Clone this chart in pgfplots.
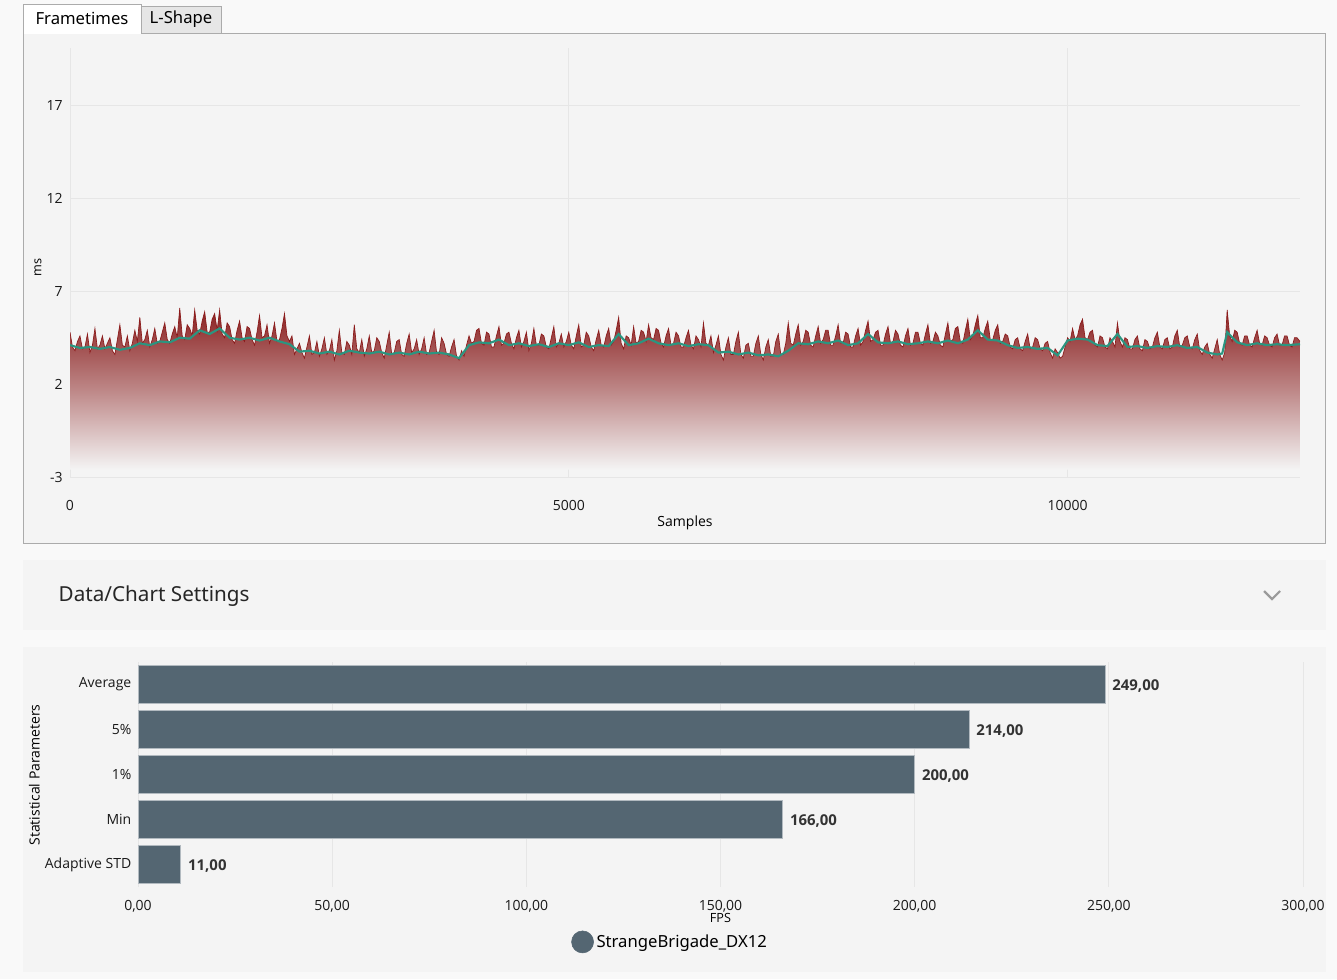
\documentclass[border=0pt]{standalone}
\usepackage{pgfplots}
\pgfplotsset{compat=1.18}
\usepackage{pgfplotstable}
\usepackage{fontspec}
\setmainfont{Open Sans}
\newfontfamily\uifont{Noto Sans}

\definecolor{pagebg}{HTML}{F9F9F9}
\definecolor{panelbg}{HTML}{F4F4F4}
\definecolor{bordergray}{HTML}{ABABAB}
\definecolor{tabgray}{HTML}{E6E6E6}
\definecolor{gridgray}{HTML}{E6E6E6}
\definecolor{ftred}{HTML}{8B1A1A}
\definecolor{ftshade}{HTML}{8A2020}
\definecolor{avgteal}{HTML}{2B9580}
\definecolor{barslate}{HTML}{546672}
\definecolor{labeltext}{HTML}{333333}
\definecolor{chevron}{HTML}{9A9A9A}

% frametimes (ms) per sample
\pgfplotstableread{
s v
0 4.8
25 4.0
50 3.8
75 4.3
100 4.6
125 3.9
150 4.0
175 4.7
200 3.7
225 4.1
250 5.0
275 3.9
300 4.1
325 4.6
350 3.9
375 4.2
400 4.5
425 3.8
450 3.6
475 4.4
500 5.2
525 4.1
550 4.0
575 4.6
600 3.8
625 4.2
650 4.9
675 4.3
700 5.6
725 4.2
750 4.4
775 4.9
800 4.0
825 4.4
850 5.0
875 4.2
900 4.3
925 4.8
950 5.3
975 4.4
1000 4.2
1025 4.7
1050 5.1
1075 4.5
1100 6.1
1125 4.6
1150 4.4
1175 5.2
1200 5.0
1225 4.6
1250 6.0
1275 4.9
1300 4.7
1325 5.4
1350 5.9
1375 4.8
1400 4.8
1425 5.5
1450 5.8
1475 4.9
1500 6.0
1525 4.7
1550 4.5
1575 5.3
1600 5.1
1625 4.4
1650 4.2
1675 4.9
1700 5.4
1725 4.5
1750 4.3
1775 5.1
1800 5.0
1825 4.4
1850 4.1
1875 4.8
1900 5.7
1925 4.5
1950 4.6
1975 5.2
2000 4.2
2025 4.6
2050 5.3
2075 4.3
2100 4.4
2125 5.0
2150 5.8
2175 4.6
2200 4.3
2225 4.6
2250 3.6
2275 3.9
2300 4.2
2325 3.7
2350 3.4
2375 4.0
2400 4.6
2425 3.6
2450 3.7
2475 4.3
2500 3.5
2525 3.9
2550 4.5
2575 3.6
2600 3.8
2625 4.4
2650 3.3
2675 3.8
2700 4.9
2725 3.7
2750 3.6
2775 4.3
2800 4.1
2825 3.6
2850 5.2
2875 3.9
2900 3.7
2925 4.4
2950 3.5
2975 3.9
3000 4.6
3025 3.7
3050 3.8
3075 4.5
3100 4.3
3125 3.7
3150 3.4
3175 4.1
3200 4.8
3225 3.6
3250 3.7
3275 4.3
3300 4.4
3325 3.6
3350 3.5
3375 4.2
3400 4.7
3425 3.7
3450 3.9
3475 4.4
3500 3.6
3525 3.9
3550 4.5
3575 3.6
3600 3.7
3625 4.3
3650 4.9
3675 3.7
3700 3.6
3725 4.5
3750 4.2
3775 3.6
3800 3.5
3825 4.0
3850 4.4
3875 3.5
3900 3.3
3925 3.8
3950 3.5
3975 4.1
4000 4.6
4025 4.2
4050 4.3
4075 4.9
4100 5.0
4125 4.2
4150 4.1
4175 4.8
4200 4.7
4225 4.0
4250 4.0
4275 4.6
4300 5.1
4325 4.1
4350 4.2
4375 4.7
4400 4.8
4425 4.2
4450 3.9
4475 4.5
4500 4.9
4525 4.0
4550 4.3
4575 4.8
4600 3.8
4625 4.2
4650 5.0
4675 4.1
4700 4.1
4725 4.7
4750 4.6
4775 4.0
4800 3.9
4825 4.5
4850 5.1
4875 4.0
4900 4.2
4925 4.7
4950 4.0
4975 4.3
5000 4.8
5025 4.1
5050 3.9
5075 4.6
5100 5.2
5125 4.0
5150 4.1
5175 4.8
5200 4.6
5225 4.0
5250 3.8
5275 4.4
5300 4.9
5325 4.1
5350 4.0
5375 4.6
5400 5.0
5425 4.1
5450 4.3
5475 4.9
5500 5.6
5525 4.2
5550 3.9
5575 4.6
5600 4.5
5625 4.1
5650 5.1
5675 4.2
5700 4.3
5725 4.9
5750 4.8
5775 4.3
5800 5.2
5825 4.5
5850 4.4
5875 5.0
5900 4.9
5925 4.2
5950 4.0
5975 4.6
6000 5.0
6025 4.1
6050 4.2
6075 4.8
6100 4.6
6125 4.0
6150 4.0
6175 4.5
6200 4.9
6225 4.1
6250 3.9
6275 4.6
6300 4.4
6325 4.0
6350 5.3
6375 4.2
6400 4.1
6425 4.6
6450 3.7
6475 4.1
6500 4.6
6525 3.6
6550 3.3
6575 4.0
6600 4.5
6625 3.6
6650 3.6
6675 4.3
6700 4.8
6725 3.6
6750 3.4
6775 4.1
6800 4.2
6825 3.5
6850 3.5
6875 4.2
6900 4.6
6925 3.6
6950 3.3
6975 4.0
7000 4.4
7025 3.5
7050 3.5
7075 4.3
7100 4.7
7125 3.6
7150 3.6
7175 4.2
7200 5.3
7225 4.2
7250 4.1
7275 4.7
7300 5.2
7325 4.1
7350 4.3
7375 4.9
7400 4.8
7425 4.1
7450 4.0
7475 4.6
7500 5.1
7525 4.2
7550 4.4
7575 4.9
7600 4.9
7625 4.1
7650 4.1
7675 4.6
7700 5.2
7725 4.2
7750 4.2
7775 4.8
7800 4.7
7825 4.0
7850 4.0
7875 4.6
7900 5.0
7925 4.1
7950 4.3
7975 4.9
8000 5.4
8025 4.3
8050 4.4
8075 4.8
8100 4.9
8125 4.1
8150 4.1
8175 4.7
8200 5.1
8225 4.2
8250 4.3
8275 4.9
8300 4.7
8325 4.1
8350 4.0
8375 4.6
8400 5.0
8425 4.1
8450 4.2
8475 4.8
8500 4.8
8525 4.2
8550 4.1
8575 4.7
8600 5.2
8625 4.2
8650 4.3
8675 4.8
8700 4.6
8725 4.1
8750 4.0
8775 4.7
8800 5.3
8825 4.3
8850 4.4
8875 5.0
8900 5.1
8925 4.3
8950 4.2
8975 4.9
9000 5.5
9025 4.4
9050 4.6
9075 5.2
9100 5.7
9125 4.5
9150 4.5
9175 5.0
9200 5.4
9225 4.4
9250 4.4
9275 4.9
9300 5.2
9325 4.2
9350 4.3
9375 4.7
9400 4.6
9425 4.0
9450 3.9
9475 4.4
9500 4.5
9525 3.9
9550 3.8
9575 4.3
9600 4.7
9625 3.9
9650 4.0
9675 4.5
9700 4.4
9725 3.9
9750 3.8
9775 4.2
9800 4.3
9825 3.7
9850 3.4
9875 3.9
9900 3.7
9925 3.4
9950 3.5
9975 4.0
10000 4.5
10025 4.3
10050 5.0
10075 4.4
10100 4.6
10125 5.2
10150 5.5
10175 4.5
10200 4.4
10225 4.8
10250 4.9
10275 4.1
10300 4.0
10325 4.6
10350 4.5
10375 4.0
10400 3.9
10425 4.5
10450 4.3
10475 4.0
10500 5.3
10525 4.3
10550 4.0
10575 4.5
10600 4.4
10625 3.9
10650 3.9
10675 4.4
10700 4.6
10725 3.9
10750 3.8
10775 4.4
10800 4.3
10825 3.9
10850 4.0
10875 4.5
10900 4.8
10925 4.0
10950 3.9
10975 4.4
11000 4.5
11025 3.9
11050 4.0
11075 4.6
11100 4.9
11125 4.0
11150 4.1
11175 4.5
11200 4.6
11225 4.0
11250 3.9
11275 4.4
11300 4.7
11325 3.8
11350 3.6
11375 4.0
11400 4.2
11425 3.6
11450 3.4
11475 3.9
11500 4.4
11525 3.6
11550 3.3
11575 3.7
11600 6.0
11625 4.6
11650 4.3
11675 4.9
11700 4.8
11725 4.2
11750 4.1
11775 4.6
11800 4.6
11825 4.1
11850 4.0
11875 4.5
11900 4.9
11925 4.2
11950 4.1
11975 4.6
12000 4.5
12025 4.1
12050 4.0
12075 4.5
12100 4.7
12125 4.1
12150 4.1
12175 4.6
12200 4.6
12225 4.1
12250 4.0
12275 4.5
12300 4.5
12330 4.3
}\frametimes

% moving average of the frametimes
\pgfplotstableread{
s v
0 4.1
100 3.95
200 4.0
300 3.9
400 4.0
500 3.85
600 3.95
700 4.2
800 4.1
900 4.3
1000 4.25
1100 4.5
1200 4.45
1300 4.9
1400 4.7
1500 5.0
1600 4.5
1700 4.4
1800 4.5
1900 4.35
2000 4.5
2100 4.3
2200 4.15
2300 3.75
2400 3.8
2500 3.65
2600 3.75
2700 3.6
2800 3.8
2900 3.7
3000 3.65
3100 3.75
3200 3.6
3300 3.7
3400 3.6
3500 3.75
3600 3.65
3700 3.7
3800 3.6
3900 3.4
4000 4.1
4100 4.25
4200 4.2
4300 4.4
4400 4.1
4500 4.2
4600 4.05
4700 4.15
4800 4.0
4900 4.2
5000 4.1
5100 4.25
5200 4.0
5300 4.1
5400 4.05
5500 4.7
5600 4.1
5700 4.2
5800 4.45
5900 4.2
6000 4.1
6100 4.2
6200 4.05
6300 4.15
6400 4.1
6500 3.7
6600 3.75
6700 3.6
6800 3.7
6900 3.55
7000 3.6
7100 3.5
7200 3.8
7300 4.2
7400 4.15
7500 4.3
7600 4.2
7700 4.35
7800 4.1
7900 4.2
8000 4.7
8100 4.25
8200 4.2
8300 4.3
8400 4.15
8500 4.2
8600 4.3
8700 4.2
8800 4.35
8900 4.2
9000 4.4
9100 4.9
9200 4.4
9300 4.35
9400 4.1
9500 3.95
9600 4.0
9700 3.9
9800 3.95
9900 3.55
10000 4.35
10100 4.45
10200 4.4
10300 4.1
10400 4.05
10500 4.7
10600 4.0
10700 4.05
10800 3.95
10900 4.05
11000 4.0
11100 4.1
11200 3.95
11300 4.0
11400 3.7
11500 3.6
11550 3.65
11600 4.8
11700 4.25
11800 4.1
11900 4.2
12000 4.1
12100 4.15
12200 4.1
12330 4.15
}\movingavg

\begin{document}
\begin{tikzpicture}
\begin{scope}[x=0.75pt,y=-0.75pt]
  \path[use as bounding box] (0,0) rectangle (1337,979);
  \fill[pagebg] (0,0) rectangle (1337,979);
  % frametime panel with its tabs
  \filldraw[fill=panelbg, draw=bordergray, line width=0.75pt] (23.5,33.5) rectangle (1325.5,543.5);
  \filldraw[fill=tabgray, draw=bordergray, line width=0.75pt] (141,6) rectangle (221,33.5);
  \fill[white] (23.5,4.5) rectangle (141,34.2);
  \draw[bordergray, line width=0.75pt] (23.5,34) -- (23.5,4.5) -- (141,4.5) -- (141,34);
  \node[font=\uifont\fontsize{12.5}{15}\selectfont, text=black] at (82,18) {Frametimes};
  \node[font=\uifont\fontsize{12.5}{15}\selectfont, text=black] at (181,19) {L-Shape};
  % settings bar
  \fill[panelbg] (23,560) rectangle (1326,630);
  \node[anchor=west, font=\uifont\fontsize{15.5}{18}\selectfont, text=black!85] at (54,596) {Data/Chart Settings};
  \draw[chevron, line width=1.6pt] (1264,591) -- (1272,599) -- (1280,591);
  % statistics panel
  \fill[panelbg] (23,647) rectangle (1326,972);
\end{scope}

% frametime graph
\begin{axis}[
  at={(52.5pt,-357.75pt)}, anchor=south west,
  scale only axis, width=922.5pt, height=321.75pt,
  xmin=0, xmax=12330, ymin=-3, ymax=20.1,
  xtick={0,5000,10000}, ytick={-3,2,7,12,17},
  scaled x ticks=false,
  axis line style={draw=none}, major tick length=0pt,
  grid=major, grid style={gridgray, line width=0.75pt},
  tick label style={font=\fontsize{10.5}{12}\selectfont, text=black!90},
  /pgf/number format/assume math mode=true,
  /pgf/number format/1000 sep={},
  xticklabel style={yshift=-14pt},
  yticklabel style={xshift=-2pt},
  xlabel={Samples},
  xlabel style={at={(axis description cs:0.5,-0.106)}, anchor=center, font=\fontsize{10.5}{12}\selectfont},
  ylabel={ms},
  ylabel style={at={(axis description cs:-0.026,0.488)}, anchor=center, font=\fontsize{9.5}{11}\selectfont},
]
  % shaded area under the frametimes, closed down to the fade-out level
  \addplot[draw=none, top color=ftshade, bottom color=panelbg, middle color=ftshade!52!panelbg, forget plot]
    table[x=s, y=v] {\frametimes} -- (axis cs:12330,-2.6) -- (axis cs:0,-2.6) -- cycle;
  \addplot[ftred, line width=0.5pt] table[x=s, y=v] {\frametimes};
  \addplot[avgteal, line width=1.6pt] table[x=s, y=v] {\movingavg};
\end{axis}

% statistical parameters
\begin{axis}[
  at={(103.5pt,-665.25pt)}, anchor=south west,
  scale only axis, width=873.75pt, height=168.75pt,
  xbar, bar width=28.5pt,
  xmin=0, xmax=300, ymin=-0.5, ymax=4.5, y dir=reverse,
  ytick={0,1,2,3,4}, yticklabels={Average,5\%,1\%,Min,Adaptive STD},
  xtick={0,50,100,150,200,250,300},
  axis line style={draw=none}, major tick length=0pt,
  xmajorgrids, grid style={gridgray, line width=0.75pt},
  tick label style={font=\fontsize{10.5}{12}\selectfont, text=black!90},
  /pgf/number format/fixed, /pgf/number format/fixed zerofill,
  /pgf/number format/precision=2, /pgf/number format/use comma,
  /pgf/number format/assume math mode=true,
  xticklabel style={yshift=-6.5pt},
  yticklabel style={xshift=-1.5pt},
  point meta=x,
  nodes near coords,
  nodes near coords style={font=\bfseries\fontsize{11.2}{13}\selectfont, text=labeltext, anchor=west, xshift=2pt, yshift=-1pt},
  xlabel={FPS},
  xlabel style={at={(axis description cs:0.5,-0.138)}, anchor=center, font=\fontsize{9.5}{11}\selectfont},
  ylabel={Statistical Parameters},
  ylabel style={at={(axis description cs:-0.089,0.498)}, anchor=center, font=\fontsize{10.5}{12}\selectfont},
  legend style={at={(axis description cs:0.457,-0.244)}, anchor=center, draw=none, fill=none,
    font=\uifont\fontsize{12.5}{15}\selectfont},
  legend image code/.code={\fill[barslate] (0.2cm,0cm) circle (8.25pt);},
]
  \addplot[fill=barslate, draw=white!55!barslate, line width=0.4pt]
    coordinates {(249,0) (214,1) (200,2) (166,3) (11,4)};
  \addlegendentry{StrangeBrigade\_DX12}
\end{axis}
\end{tikzpicture}
\end{document}
